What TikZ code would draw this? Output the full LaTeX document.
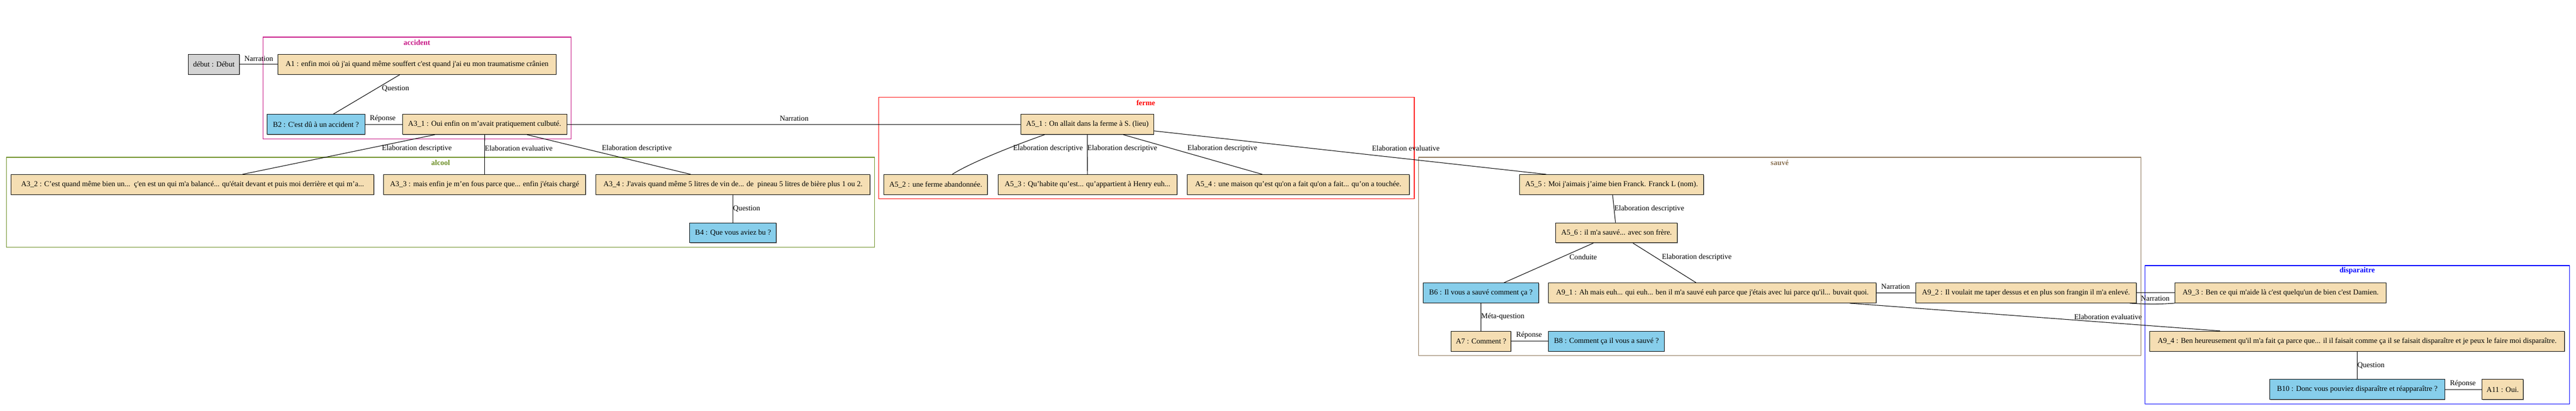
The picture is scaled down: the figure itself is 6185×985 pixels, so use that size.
\documentclass[tikz,border=0pt]{standalone}
\usepackage{fontspec}
\setmainfont{Liberation Serif}[Ligatures=TeXOff]
\usetikzlibrary{shadows}
\definecolor{wheatc}{HTML}{F5DEB3}
\definecolor{skyc}{HTML}{87CEEB}
\definecolor{grayc}{HTML}{D3D3D3}
\definecolor{accc}{HTML}{C71585}
\definecolor{alcc}{HTML}{6B8E23}
\definecolor{fermc}{HTML}{FF0000}
\definecolor{sauvc}{HTML}{8B7355}
\definecolor{dispc}{HTML}{0000FF}
\tikzset{
 gvtext/.style={font=\fontsize{18}{21}\selectfont},
 box/.style={gvtext, draw=black, line width=1.33pt, inner xsep=8pt, inner ysep=0pt, minimum height=48pt,
   drop shadow={shadow xshift=1.2pt, shadow yshift=-1.2pt, fill=black!35, opacity=1}},
 anode/.style={box, fill=wheatc},
 bnode/.style={box, fill=skyc},
 snode/.style={box, fill=grayc},
 edge/.style={draw=black, line width=1.33pt},
 elab/.style={gvtext, anchor=west, inner sep=0pt},
 clus/.style={line width=1.5pt},
 clab/.style={font=\fontsize{18}{21}\selectfont\bfseries, inner sep=0pt},
}
\begin{document}
\begin{tikzpicture}[x=1pt,y=-1pt]
\useasboundingbox[fill=white] (0,0) rectangle (6185,985);
% clusters
\draw[clus, draw=accc] (631,89) rectangle (1371,333);
\node[clab, text=accc] (Lacc) at (1001,102) {accident};
\draw[clus, draw=alcc] (15.4,377.3) rectangle (2100,593.3);
\node[clab, text=alcc] (Lalc) at (1058,390.7) {alcool};
\draw[clus, draw=fermc] (2110,233.3) rectangle (3395.4,477);
\node[clab, text=fermc] (Lfer) at (2751,246.7) {ferme};
\draw[clus, draw=sauvc] (3406,377.3) rectangle (5140,852.7);
\node[clab, text=sauvc] (Lsau) at (4273,390.7) {sauvé};
\draw[clus, draw=dispc] (5150.5,637) rectangle (6169,969);
\node[clab, text=dispc] (Ldis) at (5659.5,650) {disparaitre};
% nodes
\node[snode, minimum width=123pt] (debut) at (513.5,154.5) {début : Début};
\node[anode, minimum width=667pt] (A1) at (1001.4,154.5) {A1 : enfin moi où j'ai quand même souffert c'est quand j'ai eu mon traumatisme crânien};
\node[bnode, minimum width=235pt] (B2) at (758.5,298.5) {B2 : C'est dû à un accident ?};
\node[anode, minimum width=394.5pt] (A31) at (1163.7,298.5) {A3\_1 : Oui enfin on m’avait pratiquement culbuté.};
\node[anode, minimum width=871pt] (A32) at (462.3,442.8) {A3\_2 : C’est quand même bien un...\ \ ç'en est un qui m'a balancé... qu'était devant et puis moi derrière et qui m’a...};
\node[anode, minimum width=485pt] (A33) at (1163.5,442.8) {A3\_3 : mais enfin je m’en fous parce que... enfin j'étais chargé};
\node[anode, minimum width=658pt] (A34) at (1760,442.8) {A3\_4 : J'avais quand même 5 litres de vin de... de\ \ pineau 5 litres de bière plus 1 ou 2.};
\node[bnode, minimum width=208pt] (B4) at (1760,558.5) {B4 : Que vous aviez bu ?};
\node[anode, minimum width=318.5pt] (A51) at (2610.7,298.5) {A5\_1 : On allait dans la ferme à S. (lieu)};
\node[anode, minimum width=248.6pt] (A52) at (2246.7,442.8) {A5\_2 : une ferme abandonnée.};
\node[anode, minimum width=430pt] (A53) at (2611.1,442.8) {A5\_3 : Qu’habite qu’est... qu’appartient à Henry euh...};
\node[anode, minimum width=533.7pt] (A54) at (3117.2,442.8) {A5\_4 : une maison qu’est qu'on a fait qu'on a fait... qu’on a touchée.};
\node[anode, minimum width=442.6pt] (A55) at (3869.3,442.8) {A5\_5 : Moi j'aimais j’aime bien Franck. Franck L (nom).};
\node[anode, minimum width=292.5pt] (A56) at (3881.3,558.5) {A5\_6 : il m'a sauvé... avec son frère.};
\node[bnode, minimum width=277.8pt] (B6) at (3555.6,702.7) {B6 : Il vous a sauvé comment ça ?};
\node[anode, minimum width=787pt] (A91) at (4111.5,702.7) {A9\_1 : Ah mais euh... qui euh... ben il m'a sauvé euh parce que j'étais avec lui parce qu'il... buvait quoi.};
\node[anode, minimum width=144pt] (A7) at (3556,818.7) {A7 : Comment ?};
\node[bnode, minimum width=278pt] (B8) at (3857,818.7) {B8 : Comment ça il vous a sauvé ?};
\node[anode, minimum width=530pt] (A92) at (4864.4,702.5) {A9\_2 : Il voulait me taper dessus et en plus son frangin il m'a enlevé.};
\node[anode, minimum width=506.6pt] (A93) at (5475.7,702.5) {A9\_3 : Ben ce qui m'aide là c'est quelqu'un de bien c'est Damien.};
\node[anode, minimum width=995.7pt] (A94) at (5659.5,818.5) {A9\_4 : Ben heureusement qu'il m'a fait ça parce que... il il faisait comme ça il se faisait disparaître et je peux le faire moi disparaître.};
\node[bnode, minimum width=419.5pt] (B10) at (5659.8,934.3) {B10 : Donc vous pouviez disparaître et réapparaître ?};
\node[anode, minimum width=99pt] (A11) at (6008.9,934.3) {A11 : Oui.};
% edges
\draw[edge] (debut) -- (A1);
\draw[edge] (A1) -- (B2);
\draw[edge] (B2) -- (A31);
\draw[edge] (A31) -- (A32);
\draw[edge] (A31) -- (A33);
\draw[edge] (A31) -- (A34);
\draw[edge] (A34) -- (B4);
\draw[edge] (A31) -- (A51);
\draw[edge] ([xshift=-102.7pt]A51.south) .. controls (2440,347) and (2330,390) .. ([xshift=39.8pt]A52.north);
\draw[edge] (A51) -- (A53);
\draw[edge] (A51) -- (A54);
\draw[edge] ([yshift=-15.5pt]A51.east) -- ([xshift=65pt]A55.north west);
\draw[edge] (A55) -- (A56);
\draw[edge] (A56) -- (B6);
\draw[edge] (A56) -- (A91);
\draw[edge] (B6) -- (A7);
\draw[edge] (A7) -- (B8);
\draw[edge] (A91) -- (A92);
\draw[edge] (A91) -- (A94);
\draw[edge] (A92) -- (A93);
\draw[edge] ([xshift=-17pt]A92.south east) .. controls (5150,730) and (5190,730) .. (A93.south west);
\draw[edge] (A94) -- (B10);
\draw[edge] (B10) -- (A11);
% edge labels
\node[elab] (l1) at (586.6,140.7) {Narration};
\node[elab] (l2) at (917,212.7) {Question};
\node[elab] (l3) at (887.7,284) {Réponse};
\node[elab] (l4) at (917,356) {Elaboration descriptive};
\node[elab] (l5) at (1164,356) {Elaboration evaluative};
\node[elab] (l6) at (1445,356) {Elaboration descriptive};
\node[elab] (l7) at (1760,501) {Question};
\node[elab] (l8) at (1872,284) {Narration};
\node[elab] (l9) at (2432.4,356.7) {Elaboration descriptive};
\node[elab] (l10) at (2610.7,356.7) {Elaboration descriptive};
\node[elab] (l11) at (2851,356.7) {Elaboration descriptive};
\node[elab] (l12) at (3294,356) {Elaboration evaluative};
\node[elab] (l13) at (3876,500.7) {Elaboration descriptive};
\node[elab] (l14) at (3768,616.7) {Conduite};
\node[elab] (l15) at (3990,616.7) {Elaboration descriptive};
\node[elab] (l16) at (3556,760) {Méta-question};
\node[elab] (l17) at (3640,804.3) {Réponse};
\node[elab] (l18) at (4516.5,688) {Narration};
\node[elab] (l19) at (5140,716) {Narration};
\node[elab] (l20) at (4980,760) {Elaboration evaluative};
\node[elab] (l21) at (5660,876.7) {Question};
\node[elab] (l22) at (5882,920) {Réponse};
\end{tikzpicture}
\end{document}
